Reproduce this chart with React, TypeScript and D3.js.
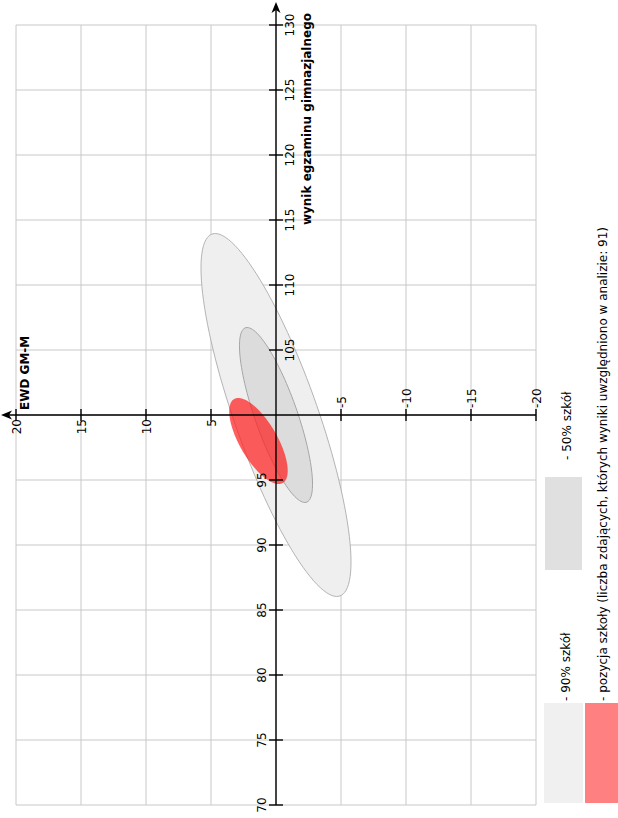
import React from "react";
import * as d3 from "d3";

// ---- data ----
const wynikGrid = [70, 75, 80, 85, 90, 95, 100, 105, 110, 115, 120, 125, 130];
const ewdGrid = [20, 15, 10, 5, 0, -5, -10, -15, -20];
const wynikTickLabels = [70, 75, 80, 85, 90, 95, 105, 110, 115, 120, 125, 130];
const ewdTickLabels = [20, 15, 10, 5, -5, -10, -15, -20];

// ellipses: 90% of schools, 50% of schools, school position
const ellipseKeys = ["p90", "p50", "school"];
const centerWynik = [100, 100, 98.0];
const centerEwd = [0, 0, 1.35];
const halfWynik = [13.96, 6.73, 3.31];
const halfEwd = [5.77, 2.81, 2.25];
const corr = [0.81, 0.79, 0.69];
const ellipseFill = ["#efefef", "#dcdcdc", "#ff2020"];
const ellipseStroke = ["#b4b4b4", "#a6a6a6", "none"];
const ellipseOpacity = [1, 1, 0.72];

const legendLabels = [
  "- 90% szkół",
  "- 50% szkół",
  "- pozycja szkoły (liczba zdających, których wyniki uwzględniono w analizie: 91)",
];

const FONT = "'DejaVu Sans', Verdana, sans-serif";

export default function App() {
  const W = 618;
  const H = 818;
  const xE = d3.scaleLinear().domain([20, -20]).range([16, 536]);
  const yW = d3.scaleLinear().domain([70, 130]).range([805, 25]);
  const ax = xE(0);
  const ay = yW(100);

  const tSteps = d3.range(0, 361, 3).map((d) => (d * Math.PI) / 180);
  const line = d3
    .line<[number, number]>()
    .x((d) => d[0])
    .y((d) => d[1])
    .curve(d3.curveLinearClosed);

  const ellipsePath = (i: number) => {
    const pts: [number, number][] = tSteps.map((t) => {
      const w = centerWynik[i] + halfWynik[i] * Math.cos(t);
      const e =
        centerEwd[i] +
        halfEwd[i] * (corr[i] * Math.cos(t) + Math.sqrt(1 - corr[i] * corr[i]) * Math.sin(t));
      return [xE(e), yW(w)];
    });
    return line(pts) || "";
  };

  return (
    <svg
      width={W}
      height={H}
      style={{ position: "absolute", left: 0, top: 0, background: "#fff" }}
      fontFamily={FONT}
    >
      <rect x={0} y={0} width={W} height={H} fill="#fff" />
      {/* grid */}
      <g stroke="#c8c8c8" strokeWidth={1}>
        {wynikGrid.map((v) => (
          <line key={"gw" + v} x1={xE(20)} x2={xE(-20)} y1={yW(v)} y2={yW(v)} />
        ))}
        {ewdGrid.map((v) => (
          <line key={"ge" + v} x1={xE(v)} x2={xE(v)} y1={yW(70)} y2={yW(130)} />
        ))}
      </g>

      {/* ellipses */}
      {ellipseKeys.map((k, i) => (
        <path
          key={k}
          d={ellipsePath(i)}
          fill={ellipseFill[i]}
          fillOpacity={ellipseOpacity[i]}
          stroke={ellipseStroke[i]}
          strokeWidth={1}
        />
      ))}

      {/* axes */}
      <g stroke="#000" strokeWidth={1.4}>
        <line x1={ax} x2={ax} y1={yW(70)} y2={8} />
        <line x1={xE(-20)} x2={7} y1={ay} y2={ay} />
        {wynikTickLabels.map((v) => (
          <line key={"tw" + v} x1={ax - 7} x2={ax + 7} y1={yW(v)} y2={yW(v)} />
        ))}
        {ewdTickLabels.map((v) => (
          <line key={"te" + v} x1={xE(v)} x2={xE(v)} y1={ay - 6} y2={ay + 6} />
        ))}
      </g>
      <path d={`M${ax},2 L${ax - 4.5},13 L${ax},10 L${ax + 4.5},13 Z`} fill="#000" />
      <path d={`M1,${ay} L12,${ay - 4.5} L9,${ay} L12,${ay + 4.5} Z`} fill="#000" />

      {/* tick labels */}
      <g fontSize={12} fill="#000">
        {wynikTickLabels.map((v) => (
          <text
            key={"lw" + v}
            transform={`translate(${v < 100 ? ax - 10 : ax + 18},${yW(v)}) rotate(-90)`}
            textAnchor="middle"
          >
            {v}
          </text>
        ))}
        {ewdTickLabels.map((v) => (
          <text
            key={"le" + v}
            transform={`translate(${xE(v) + 4.5},${v > 0 ? ay + 4 : ay - 7}) rotate(-90)`}
            textAnchor={v > 0 ? "end" : "start"}
          >
            {v}
          </text>
        ))}
      </g>

      {/* axis titles */}
      <text
        transform={`translate(311,13) rotate(-90)`}
        textAnchor="end"
        fontSize={12}
        fontWeight="bold"
      >
        wynik egzaminu gimnazjalnego
      </text>
      <text
        transform={`translate(29,410) rotate(-90)`}
        textAnchor="start"
        fontSize={12}
        fontWeight="bold"
      >
        EWD GM-M
      </text>

      {/* legend */}
      <rect x={544} y={703} width={39} height={100} fill="#f0f0f0" />
      <rect x={545} y={477} width={37} height={93} fill="#e0e0e0" />
      <rect x={585} y={703} width={40} height={100} fill="#ff8080" />
      <g fontSize={12} fill="#000">
        <text transform={`translate(570,701) rotate(-90)`}>{legendLabels[0]}</text>
        <text transform={`translate(571,460) rotate(-90)`}>{legendLabels[1]}</text>
        <text transform={`translate(607,701) rotate(-90)`}>{legendLabels[2]}</text>
      </g>
    </svg>
  );
}
